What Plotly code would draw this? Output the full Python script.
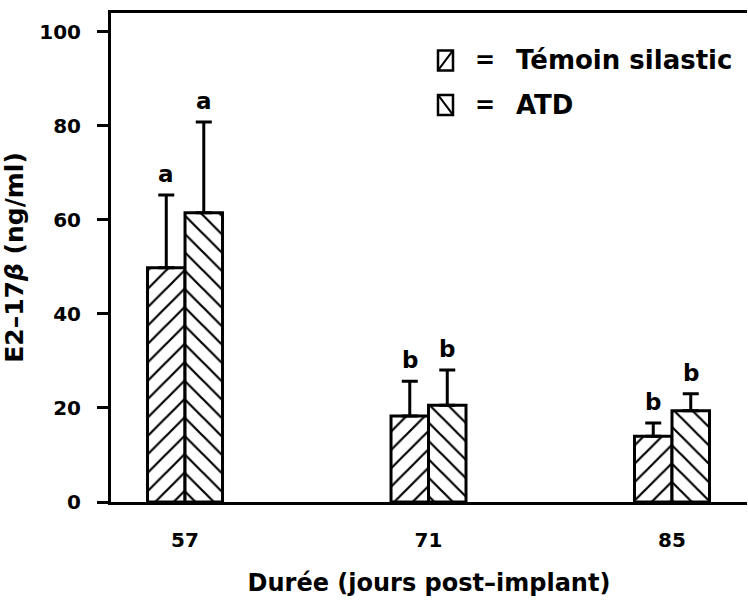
import plotly.graph_objects as go

# Implant duration (days post-implant) and E2-17beta levels (ng/ml)
durations = ["57", "71", "85"]
temoin_mean = [49.8, 18.3, 14.0]
temoin_err = [15.5, 7.4, 2.8]
atd_mean = [61.5, 20.6, 19.4]
atd_err = [19.3, 7.5, 3.6]
temoin_letters = ["a", "b", "b"]
atd_letters = ["a", "b", "b"]
y_ticks = [0, 20, 40, 60, 80, 100]

FONT = "DejaVu Sans"
bar_w = 0.154
idx = list(range(len(durations)))

fig = go.Figure()

common = dict(
    width=[bar_w] * len(idx),
    cliponaxis=False,
    showlegend=False,
)

fig.add_trace(go.Bar(
    x=idx, y=temoin_mean, offset=-bar_w, name="Témoin silastic",
    marker=dict(color="white", line=dict(color="black", width=3),
                pattern=dict(shape="/", size=13, solidity=0.17,
                             fgcolor="black", bgcolor="white",
                             fgopacity=1)),
    error_y=dict(type="data", symmetric=False, array=temoin_err,
                 arrayminus=[0] * len(idx), color="black",
                 thickness=3, width=8),
    **common,
))
fig.add_trace(go.Bar(
    x=idx, y=atd_mean, offset=0, name="ATD",
    marker=dict(color="white", line=dict(color="black", width=3),
                pattern=dict(shape="\\", size=13, solidity=0.17,
                             fgcolor="black", bgcolor="white",
                             fgopacity=1)),
    error_y=dict(type="data", symmetric=False, array=atd_err,
                 arrayminus=[0] * len(idx), color="black",
                 thickness=3, width=8),
    **common,
))

# Significance letters above the error bars
annotations = []
for i in idx:
    for xpos, top, letter in (
        (i - bar_w / 2, temoin_mean[i] + temoin_err[i], temoin_letters[i]),
        (i + bar_w / 2, atd_mean[i] + atd_err[i], atd_letters[i]),
    ):
        annotations.append(dict(
            x=xpos, y=top, xref="x", yref="y", text=letter,
            showarrow=False, yanchor="middle", yshift=21,
            font=dict(family=FONT, size=23, color="black", weight="bold"),
        ))

# Legend: boxed diagonal key, "=" sign and label
legend_rows = [("Témoin silastic", "/", 0.903), ("ATD", "\\", 0.812)]
shapes = []
px_x = lambda p: (p - 111) / 636
px_y = lambda p: (502 - p) / 489
for label, direction, yc in legend_rows:
    yc_px = 502 - yc * 489
    x0, x1 = px_x(438), px_x(453)
    y0, y1 = px_y(yc_px + 10), px_y(yc_px - 10)
    shapes.append(dict(type="rect", xref="paper", yref="paper",
                       x0=x0, x1=x1, y0=y0, y1=y1,
                       line=dict(color="black", width=2.5)))
    if direction == "/":
        shapes.append(dict(type="line", xref="paper", yref="paper",
                           x0=x0, y0=y0, x1=x1, y1=y1,
                           line=dict(color="black", width=2)))
    else:
        shapes.append(dict(type="line", xref="paper", yref="paper",
                           x0=x0, y0=y1, x1=x1, y1=y0,
                           line=dict(color="black", width=2)))
    annotations.append(dict(x=px_x(485), y=yc, xref="paper", yref="paper",
                            text="=", showarrow=False, xanchor="center",
                            yanchor="middle",
                            font=dict(family=FONT, size=24, color="black",
                                      weight="bold")))
    annotations.append(dict(x=px_x(514), y=yc, xref="paper", yref="paper",
                            text=label, showarrow=False, xanchor="left",
                            yanchor="middle",
                            font=dict(family=FONT, size=26, color="black",
                                      weight="bold")))

fig.update_layout(
    width=748, height=603,
    margin=dict(l=111, r=1, t=13, b=101),
    paper_bgcolor="white", plot_bgcolor="white",
    barmode="overlay",
    font=dict(family=FONT, color="black"),
    annotations=annotations,
    shapes=shapes,
)

fig.update_xaxes(
    range=[-0.304, 2.308],
    tickvals=idx, ticktext=durations,
    ticks="", showgrid=False, zeroline=False,
    showline=True, linecolor="black", linewidth=3, mirror=True,
    tickfont=dict(family=FONT, size=20, weight="bold"),
    ticklabelstandoff=18,
    title=dict(text="Durée (jours post–implant)", standoff=24,
               font=dict(family=FONT, size=24, weight="bold")),
)
fig.update_yaxes(
    range=[0, 104],
    tickvals=y_ticks,
    ticks="outside", ticklen=11, tickwidth=2.5, tickcolor="black",
    showgrid=False, zeroline=False,
    showline=True, linecolor="black", linewidth=3,
    tickfont=dict(family=FONT, size=20, weight="bold"),
    ticklabelstandoff=12,
    title=dict(text="E2–17<i>β</i> (ng/ml)", standoff=10,
               font=dict(family=FONT, size=25, weight="bold")),
)

fig.write_html("out.html")
